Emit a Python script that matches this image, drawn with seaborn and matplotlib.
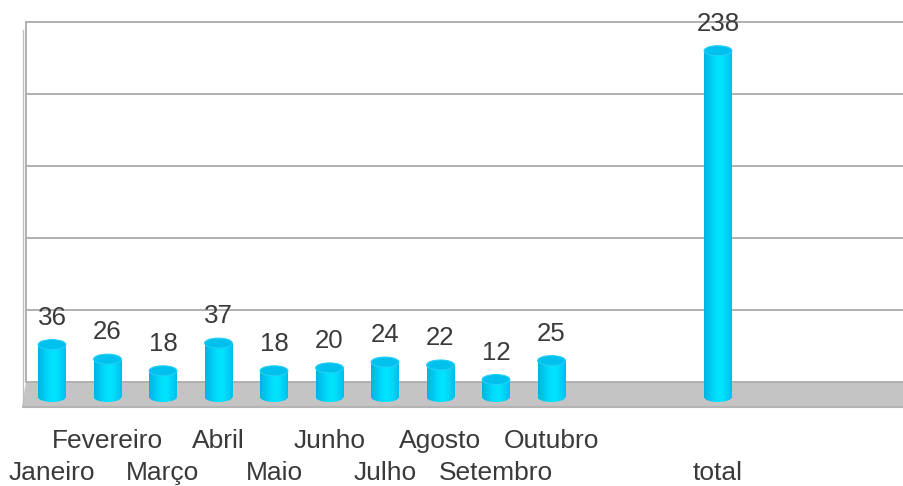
import numpy as np
import pandas as pd
import matplotlib
matplotlib.use("Agg")
import matplotlib.pyplot as plt
import seaborn as sns
from matplotlib.patches import Ellipse, Rectangle, Polygon
from matplotlib.colors import LinearSegmentedColormap

# ---- data ----
categories = ["Janeiro", "Fevereiro", "Março", "Abril", "Maio", "Junho",
              "Julho", "Agosto", "Setembro", "Outubro", " ", "  ", "total",
              "   ", "    ", "     "]
values = [36, 26, 18, 37, 18, 20, 24, 22, 12, 25,
          np.nan, np.nan, 238, np.nan, np.nan, np.nan]
gridline_values = [0, 50, 100, 150, 200, 250]

df = pd.DataFrame({"mes": categories, "valor": values})

sns.set_theme(style="white")
plt.rcParams["font.family"] = ["Liberation Sans", "DejaVu Sans"]

W, H = 904, 486
fig = plt.figure(figsize=(W / 100, H / 100), dpi=100)
ax_left, ax_right, ax_top, ax_bot = 22, 904, 0, 410
ax = fig.add_axes([ax_left / W, 1 - ax_bot / H, (ax_right - ax_left) / W, (ax_bot - ax_top) / H])

BASE_PX = 397.0
SCALE = 1.455  # px per unit
ylo = (BASE_PX - ax_bot) / SCALE
yhi = (BASE_PX - ax_top) / SCALE
slot = 55.5
x0_px = 52.0
xlo = (ax_left - x0_px) / slot
xhi = (ax_right - x0_px) / slot

sns.barplot(data=df, x="mes", y="valor", order=categories, color="#00d0f8",
            width=0.5, ax=ax, zorder=3, edgecolor="none")

depth = (BASE_PX - 382) / SCALE  # back-wall offset in data units

# floor
floor_front = (BASE_PX - 407) / SCALE
ax.add_patch(Polygon([[xlo, floor_front], [xhi + 1, floor_front], [xhi + 1, depth],
                      [xlo + 4 / slot, depth]], closed=True, facecolor="#c4c4c4",
                     edgecolor="none", zorder=1))
ax.plot([xlo, xhi + 1], [floor_front, floor_front], color="#b4b4b4", lw=1.5, zorder=1.5)

# back-wall gridlines
for g in gridline_values:
    ax.plot([xlo + 4 / slot, xhi + 1], [depth + g * 1.44 / SCALE] * 2,
            color="#b0b0b0", lw=1.4, zorder=1.2)
top_g = depth + gridline_values[-1] * 1.44 / SCALE
# left wall
ax.plot([xlo + 4 / slot, xlo + 4 / slot], [depth, top_g], color="#b0b0b0", lw=1.4, zorder=1.2)
ax.plot([xlo + 1 / slot, xlo + 1 / slot], [floor_front, top_g - 8 / SCALE], color="#c0c0c0", lw=1.0, zorder=1.2)

# cylinder styling
cmap = LinearSegmentedColormap.from_list(
    "cyl", ["#00b4e4", "#00c8f0", "#00dcfc", "#00e6ff", "#00d4f8", "#00bfea"])
grad = np.linspace(0, 1, 64).reshape(1, -1)
ell_h = 10 / SCALE
for p in list(ax.patches):
    if not isinstance(p, Rectangle) or p.get_zorder() != 3:
        continue
    h = p.get_height()
    if not np.isfinite(h) or h <= 0:
        continue
    bx, bw = p.get_x(), p.get_width()
    cx = bx + bw / 2
    p.set_facecolor("none")
    im = ax.imshow(grad, extent=[bx, bx + bw, 0, h], aspect="auto", cmap=cmap,
                   zorder=3.1, interpolation="bicubic")
    im.set_clip_path(p)
    bot = Ellipse((cx, 0), bw, ell_h, facecolor="none", edgecolor="none", zorder=3.0)
    ax.add_patch(bot)
    im2 = ax.imshow(grad, extent=[bx, bx + bw, -ell_h / 2, 0], aspect="auto", cmap=cmap,
                    zorder=3.0, interpolation="bicubic")
    im2.set_clip_path(bot)
    ax.add_patch(Ellipse((cx, h), bw, ell_h, facecolor="#00c0ee", edgecolor="#22cff5",
                         lw=0.8, zorder=3.3))
    ax.annotate(f"{int(h)}", (cx, h), xytext=(0, 20), textcoords="offset pixels",
                ha="center", va="baseline", fontsize=18.6, color="#3a3a3a", zorder=4)

ax.set_xlim(xlo, xhi)
ax.set_ylim(ylo, yhi)
ax.set_xlabel("")
ax.set_ylabel("")
ax.set_yticks([])
for s in ax.spines.values():
    s.set_visible(False)

labels = [c if c.strip() else "" for c in categories]
ax.set_xticks(range(len(categories)))
ax.set_xticklabels(labels, fontsize=19, color="#3a3a3a")
ax.tick_params(axis="x", length=0)
for i, t in enumerate(ax.xaxis.get_major_ticks()):
    t.set_pad(13.5 if i % 2 == 1 else 36.5)

fig.savefig("out.png", dpi=100)
